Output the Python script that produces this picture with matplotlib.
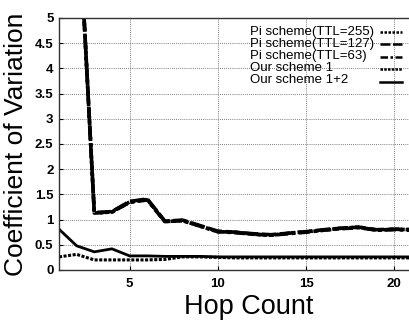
import matplotlib
matplotlib.use("Agg")
import matplotlib.pyplot as plt
from matplotlib import font_manager
import numpy as np

plt.rcParams['font.family'] = ['Liberation Sans', 'DejaVu Sans']
_names = {f.name for f in font_manager.fontManager.ttflist}
narrow = 'Liberation Sans Narrow' if 'Liberation Sans Narrow' in _names else 'Liberation Sans'

hops = list(range(1, 22))
pi_255 = [14.0, 7.8, 1.13, 1.15, 1.35, 1.40, 0.96, 0.98, 0.87, 0.76, 0.75, 0.71, 0.69, 0.73, 0.76, 0.79, 0.83, 0.85, 0.79, 0.81, 0.80]
pi_127 = [14.0, 7.8, 1.13, 1.16, 1.36, 1.41, 0.97, 0.99, 0.88, 0.77, 0.75, 0.72, 0.70, 0.73, 0.76, 0.80, 0.83, 0.85, 0.80, 0.81, 0.80]
pi_63 = [14.0, 7.8, 1.14, 1.15, 1.34, 1.39, 0.96, 0.98, 0.87, 0.76, 0.74, 0.71, 0.69, 0.72, 0.75, 0.79, 0.82, 0.84, 0.79, 0.80, 0.79]
our_1 = [0.26, 0.31, 0.20, 0.20, 0.20, 0.20, 0.21, 0.26, 0.26, 0.25, 0.24, 0.24, 0.24, 0.24, 0.24, 0.24, 0.24, 0.24, 0.24, 0.24, 0.24]
our_12 = [0.81, 0.48, 0.36, 0.42, 0.28, 0.28, 0.27, 0.27, 0.27, 0.26, 0.26, 0.26, 0.26, 0.26, 0.26, 0.26, 0.26, 0.26, 0.26, 0.26, 0.26]
labels = ["Pi scheme(TTL=255)", "Pi scheme(TTL=127)", "Pi scheme(TTL=63)", "Our scheme 1", "Our scheme 1+2"]
xticks = [5, 10, 15, 20]
yticks = [0, 0.5, 1, 1.5, 2, 2.5, 3, 3.5, 4, 4.5, 5]
yticklabels = ["0", "0.5", "1", "1.5", "2", "2.5", "3", "3.5", "4", "4.5", "5"]

W, H = 409, 320
fig = plt.figure(figsize=(W/100, H/100), dpi=100)
ax_l, ax_r, ax_b, ax_t = 59, 412, 270, 18
ax = fig.add_axes([ax_l/W, (H-ax_b)/H, (ax_r-ax_l)/W, (ax_b-ax_t)/H])

styles = [
    dict(color='black', lw=2.6, ls=(0, (1, 0.6))),
    dict(color='black', lw=2.6, ls=(0, (4, 1))),
    dict(color='black', lw=2.6, ls=(0, (3, 1, 1, 1))),
    dict(color='black', lw=2.2, ls=(0, (1, 0.5))),
    dict(color='black', lw=2.0, ls='-'),
]
series = [pi_255, pi_127, pi_63, our_1, our_12]
handles = []
for ys, st, lab in zip(series, styles, labels):
    h, = ax.plot(hops, ys, label=lab, **st)
    handles.append(h)

ax.set_xlim(1, 21)
ax.set_ylim(0, 5)
ax.set_xticks(xticks)
ax.set_yticks(yticks)
ax.set_yticklabels(yticklabels)
ax.tick_params(axis='both', direction='in', length=3, labelsize=9.5)
ax.tick_params(axis='y', pad=4)
ax.tick_params(axis='x', pad=6)
for t in ax.get_xticklabels() + ax.get_yticklabels():
    t.set_fontweight('bold')
ax.grid(True, color='#555555', ls=(0, (1, 1.5)), lw=0.6)
for s in ax.spines.values():
    s.set_color('#333333')
    s.set_linewidth(1.0)

ax.set_xlabel("Hop Count", fontsize=19.5, labelpad=1)
ax.xaxis.set_label_coords((249 - ax_l) / (ax_r - ax_l), -0.095)
ax.set_ylabel("Coefficient of Variation", fontsize=19, labelpad=5)

# legend: left-aligned labels in one text block, handles on the right
def px2ax(x, y):
    return (x - ax_l) / (ax_r - ax_l), (ax_b - y) / (ax_b - ax_t)

rows_y = [31.5, 44, 56.5, 69, 81.5]
fs = 11 if narrow != 'Liberation Sans' else 9.5
tx, ty = px2ax(250, rows_y[0] - 5)
ax.text(tx, ty, "\n".join(labels), transform=ax.transAxes, fontsize=fs,
        family=[narrow, 'DejaVu Sans'], va='top', ha='left', linespacing=0.98)
for i, h in enumerate(handles):
    x0, yy = px2ax(380, rows_y[i])
    x1, _ = px2ax(402, rows_y[i])
    st = dict(styles[i])
    st['lw'] = 1.8
    ax.plot([x0, x1], [yy, yy], transform=ax.transAxes, clip_on=False, **st)

fig.savefig("out.png", dpi=100)
